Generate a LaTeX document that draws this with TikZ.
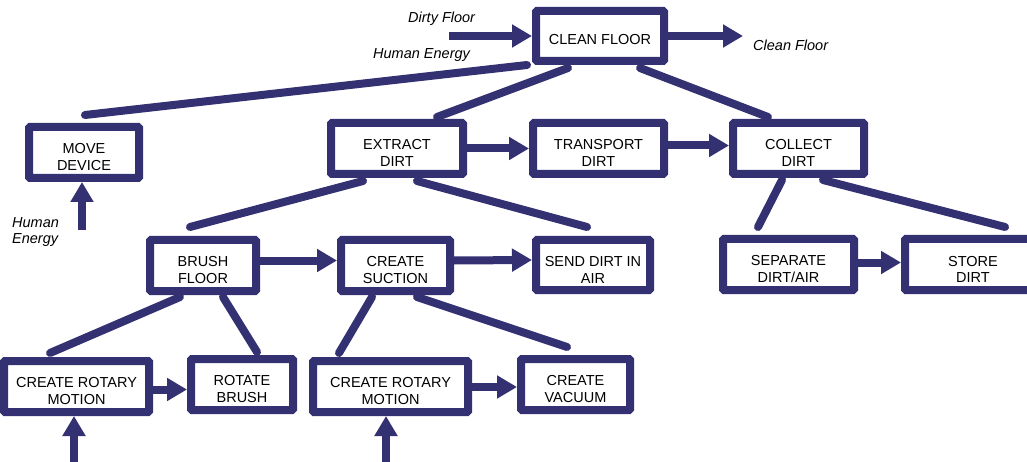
\documentclass[tikz,border=0pt]{standalone}
\usepackage{fontspec}
\setmainfont{Liberation Sans}
\usetikzlibrary{arrows.meta,calc}
\definecolor{navy}{RGB}{52,49,115}

\begin{document}
\begin{tikzpicture}[x=1pt,y=-1pt]
				\tikzstyle{block}=[draw=navy,line width=8pt,rounded corners=1pt,fill=white,
				align=center,font=\fontsize{14.5}{16.5}\selectfont,text height=36pt,
				inner sep=0pt,minimum height=51pt]
				\tikzstyle{link}=[navy,line width=8pt,line cap=round]
				\tikzstyle{flow}=[navy,line width=8pt,-{Triangle[length=20pt,width=22pt]}]
				\tikzstyle{tag}=[font=\fontsize{14.5}{16.5}\selectfont\itshape,inner sep=0pt,align=left]
				\useasboundingbox (0,0) rectangle (1027,462);
				\clip (0,0) rectangle (1027,462);
				\node[block,minimum width=128pt,minimum height=50pt,text height=18pt] (clean) at (600,36) {CLEAN FLOOR};
				\node[block,minimum width=110pt] (move) at (84,152.5) {MOVE\\DEVICE};
				\node[block,minimum width=132pt] (extract) at (397,148.5) {EXTRACT\\DIRT};
				\node[block,minimum width=131pt] (transport) at (598.5,148.5) {TRANSPORT\\DIRT};
				\node[block,minimum width=131pt] (collect) at (798.5,148.5) {COLLECT\\DIRT};
				\node[block,minimum width=106pt] (brush) at (203,265.5) {BRUSH\\FLOOR};
				\node[block,minimum width=109pt] (suction) at (395.5,265.5) {CREATE\\SUCTION};
				\node[block,minimum width=114pt,minimum height=50pt] (send) at (593,265) {SEND DIRT IN\\AIR};
				\node[block,minimum width=131pt] (separate) at (788.5,264.5) {SEPARATE\\DIRT/AIR};
				\node[block,minimum width=136pt] (store) at (973,264.5) {STORE\\DIRT};
				\node[block,minimum width=145pt] (rotaryA) at (76.5,386.5) {CREATE ROTARY\\MOTION};
				\node[block,minimum width=102pt] (rotate) at (242,384.5) {ROTATE\\BRUSH};
				\node[block,minimum width=155pt] (rotaryB) at (390.5,386.5) {CREATE ROTARY\\MOTION};
				\node[block,minimum width=109pt] (vacuum) at (575.5,384.5) {CREATE\\VACUUM};
				\node[tag,anchor=base west] (dirty) at (408,23) {Dirty Floor};
				\node[tag,anchor=base west] (energyTop) at (373,59) {Human Energy};
				\node[tag,anchor=base west] (cleanOut) at (753,51) {Clean Floor};
				\node[tag,anchor=north west] (energyLeft) at (12,217) {Human\\Energy};
				\coordinate (dirtyIn) at (449,36);
				\coordinate (cleanEnd) at (743,36);
				\coordinate (handMove) at (82,230);
				\coordinate (handA) at (74,470);
				\coordinate (handB) at (386,470);
				\draw[link] ($(clean.south)+(-73,0)$) -- ($(move.north)+(1,-8)$);
				\draw[link] ($(clean.south)+(-32,3)$) -- ($(extract.north)+(40,-2)$);
				\draw[link] ($(clean.south)+(40,3)$) -- ($(collect.north)+(-30.5,-2)$);
				\draw[link] ($(extract.south)+(-34,3)$) -- ($(brush.north)+(-13,-9)$);
				\draw[link] ($(extract.south)+(20,3)$) -- ($(send.north)+(-6,-9)$);
				\draw[link] ($(collect.south)+(-16.5,2)$) -- ($(separate.north)+(-30.5,-8)$);
				\draw[link] ($(collect.south)+(24.5,2)$) -- ($(store.north)+(32,-8)$);
				\draw[link] ($(brush.south)+(-23,2)$) -- ($(rotaryA.north)+(-26.5,-4)$);
				\draw[link] ($(brush.south)+(20,2)$) -- ($(rotate.north)+(15,-3)$);
				\draw[link] ($(suction.south)+(-23.5,2)$) -- ($(rotaryB.north)+(-51.5,-4)$);
				\draw[link] ($(suction.south)+(21.5,2)$) -- ($(vacuum.north)+(-8.5,-8)$);
				\draw[flow] (dirtyIn) -- (clean.west);
				\draw[flow] (clean.east) -- (cleanEnd);
				\draw[flow] (extract.east) -- (transport.west);
				\draw[flow] ($(transport.east)+(0,-3)$) -- ($(collect.west)+(0,-3)$);
				\draw[flow] ($(brush.east)+(0,-5)$) -- ($(suction.west)+(0,-5)$);
				\draw[flow] ($(suction.east)+(0,-5)$) -- ($(send.west)+(0,-5)$);
				\draw[flow] ($(separate.east)+(0,-2)$) -- ($(store.west)+(0,-2)$);
				\draw[flow] ($(rotaryA.east)+(0,3)$) -- ($(rotate.west)+(0,5)$);
				\draw[flow] ($(rotaryB.east)+(0,0.5)$) -- ($(vacuum.west)+(0,2.5)$);
				\draw[flow] (handMove) -- (handMove |- move.south);
				\draw[flow] (handA) -- (handA |- rotaryA.south);
				\draw[flow] (handB) -- (handB |- rotaryB.south);
\end{tikzpicture}
\end{document}
